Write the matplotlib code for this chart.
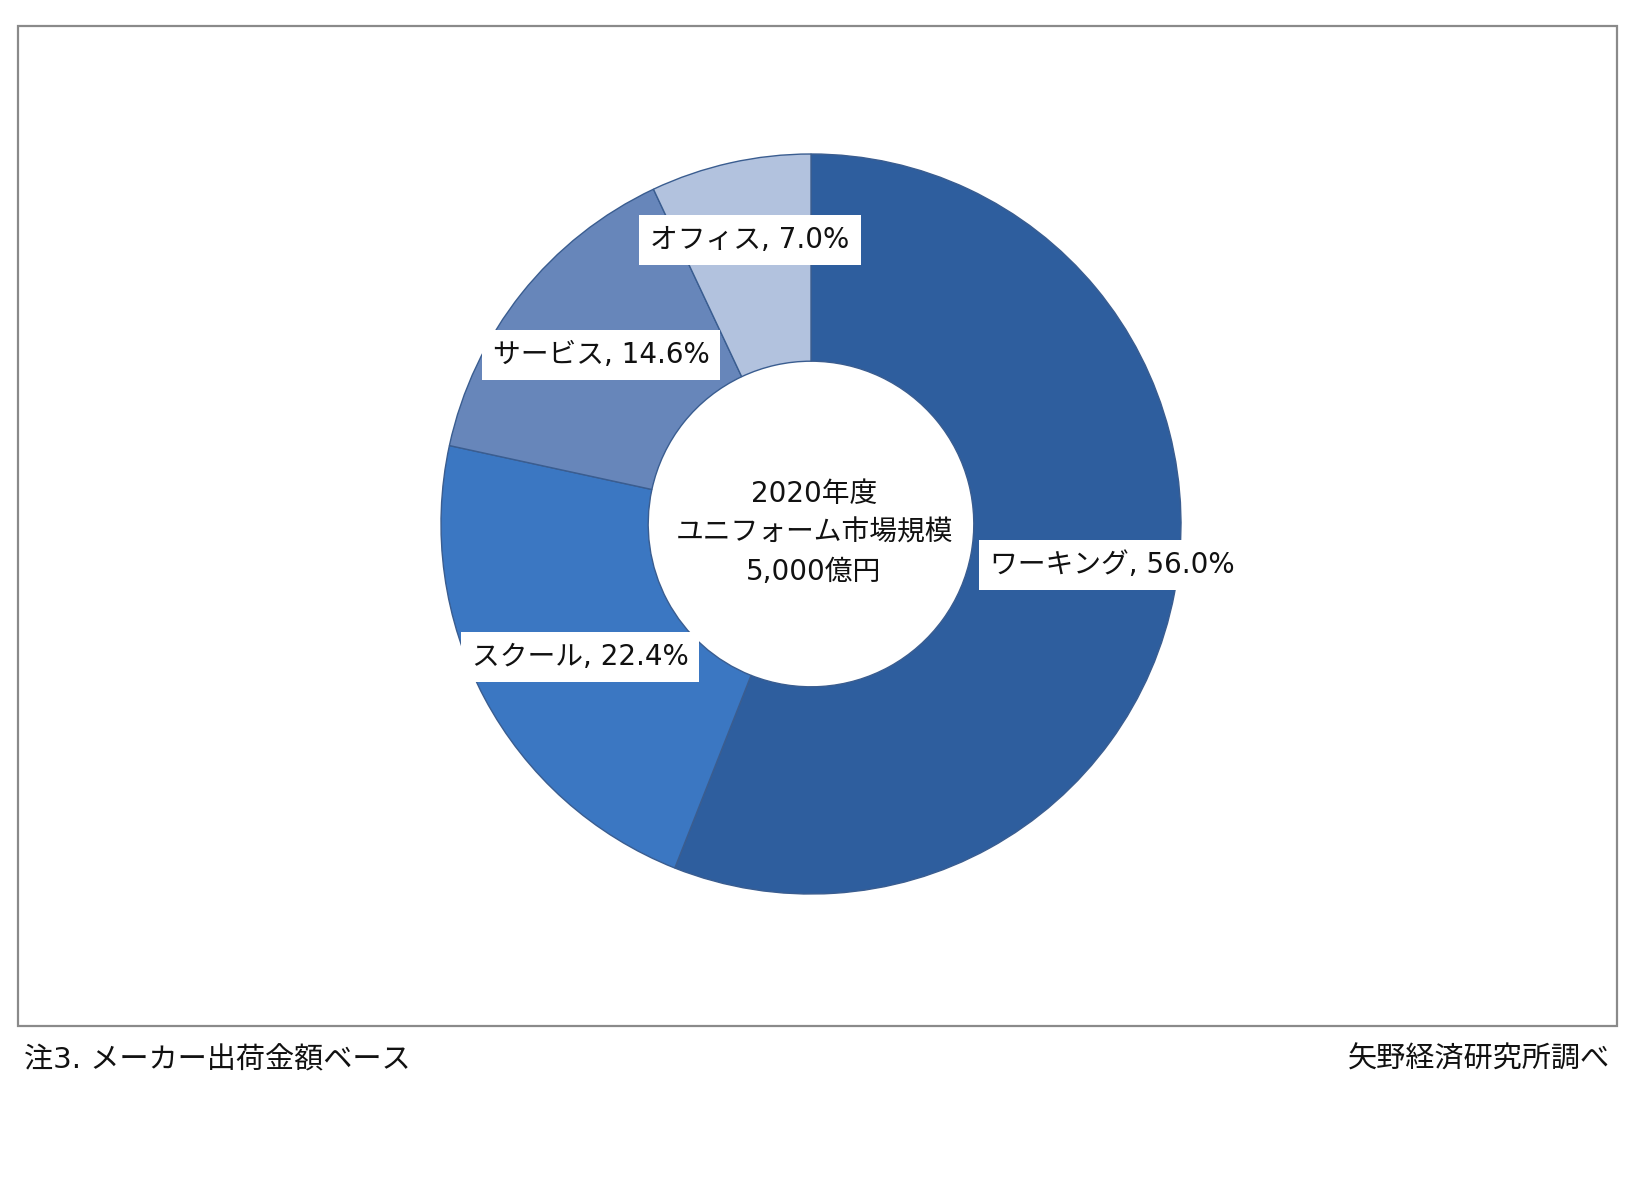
import matplotlib
matplotlib.use("Agg")
import matplotlib.pyplot as plt
from matplotlib.patches import Rectangle

# 英数字は DejaVu（Verdana 風）、日本語は Noto
plt.rcParams['font.family'] = ['DejaVu Sans', 'Noto Sans CJK JP']

# データ
categories = ['ワーキング', 'スクール', 'サービス', 'オフィス']
shares = [56.0, 22.4, 14.6, 7.0]
colors = ['#2E5E9E', '#3B77C2', '#6786BA', '#B2C2DE']
center_lines = ['2020年度', 'ユニフォーム市場規模', '5,000億円']
note_left = '注3. メーカー出荷金額ベース'
note_right = '矢野経済研究所調べ'

W, H = 1646, 1200
fig = plt.figure(figsize=(W / 100, H / 100), dpi=100)
fig.patch.set_facecolor('white')

# 枠線
fig.patches.append(Rectangle((18 / W, 1 - 1026 / H), (1617 - 18) / W, (1026 - 26) / H,
                             transform=fig.transFigure, fill=False,
                             edgecolor='#8a8a8a', linewidth=1.6))

# ドーナツ
cx, cy, R = 811, 524, 370
ax = fig.add_axes([(cx - R) / W, 1 - (cy + R) / H, 2 * R / W, 2 * R / H])
ax.pie(shares, colors=colors, startangle=90, counterclock=False, radius=1,
       wedgeprops=dict(width=0.56, edgecolor='#3a5d90', linewidth=1.0))
ax.set_xlim(-1, 1)
ax.set_ylim(-1, 1)
ax.set_aspect('equal')
ax.axis('off')


def px(x, y):
    return (x - cx) / R, (cy - y) / R


# ラベル位置（ピクセル）
label_pos = [(1112, 565), (580, 657), (601, 355), (750, 240)]
for name, v, (x, y) in zip(categories, shares, label_pos):
    ax.text(*px(x, y), f'{name}, {v:.1f}%', ha='center', va='center',
            fontsize=20, color='#111111',
            bbox=dict(boxstyle='square,pad=0.4', facecolor='white', edgecolor='none'))

for line, y in zip(center_lines, [494, 533, 572]):
    ax.text(*px(814, y), line, ha='center', va='center', fontsize=20, color='#111111')

fig.text(24 / W, 1 - 1060 / H, note_left, ha='left', va='center', fontsize=21, color='#111111')
fig.text(1610 / W, 1 - 1060 / H, note_right, ha='right', va='center', fontsize=21, color='#111111')

fig.savefig('out.png', dpi=100, facecolor='white')
